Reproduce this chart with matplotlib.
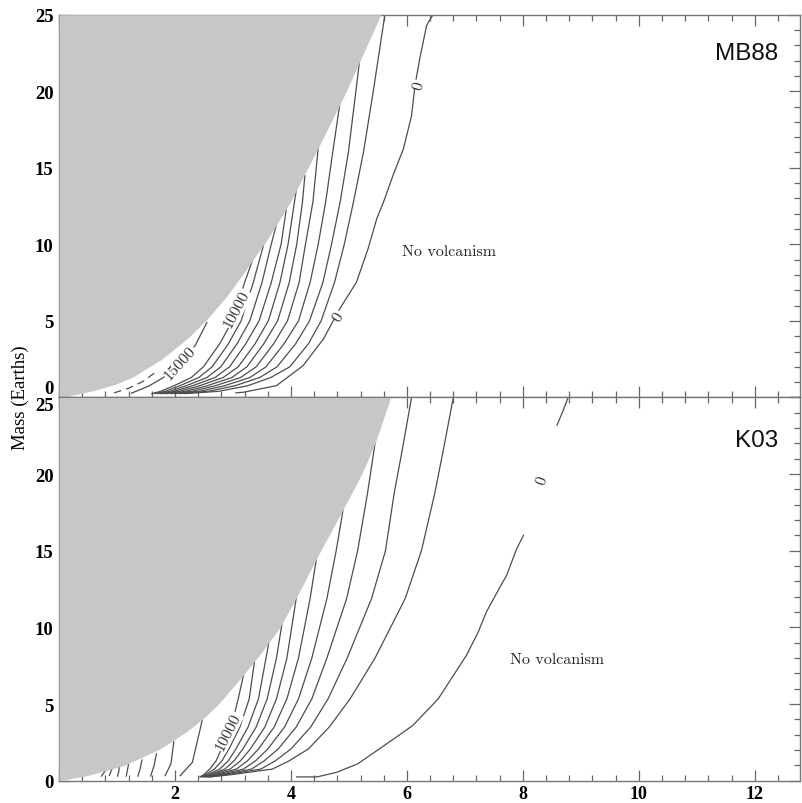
import matplotlib.pyplot as plt
from matplotlib.ticker import MultipleLocator

# Dados -- everything (x in axis units, mass in Earths)

# grey region edge, MB88 panel
mb88_edge_x = [0, 0.3, 0.65, 1.0, 1.28, 1.77, 2.23, 2.55, 2.89, 3.18, 3.64, 3.98, 4.47, 4.93, 5.30, 5.55]
mb88_edge_m = [0, 0.2, 0.5, 0.9, 1.35, 2.5, 3.9, 5.1, 6.6, 8.1, 10.6, 12.7, 16.3, 19.8, 22.9, 25]

# grey region edge, K03 panel
k03_edge_x = [0, 0.48, 1.11, 1.74, 2.2, 2.5, 2.75, 3.18, 3.5, 3.81, 4.1, 4.47, 4.90, 5.22, 5.45, 5.72]
k03_edge_m = [0, 0.33, 0.98, 2.07, 3.2, 4.1, 5.0, 6.9, 8.4, 10.0, 12.0, 14.7, 17.7, 20.0, 22.0, 25]

# MB88 fan of contours (10000 ... 1000), x where each crosses these masses
mb88_m = [0.25, 0.4, 0.76, 1.3, 2.0, 3.5, 5.0, 7.5, 10.0, 12.8, 16.0, 20.0, 25.0]
mb88_fan_x = [
    [1.60, 1.75, 1.98, 2.28, 2.49, 2.77, 2.99, 3.20],
    [1.65, 1.83, 2.08, 2.41, 2.64, 2.92, 3.14, 3.35],
    [1.70, 1.91, 2.19, 2.55, 2.79, 3.07, 3.29, 3.50, 3.66],
    [1.75, 1.99, 2.30, 2.69, 2.94, 3.22, 3.45, 3.66, 3.83],
    [1.80, 2.08, 2.42, 2.83, 3.09, 3.38, 3.61, 3.81, 3.95],
    [1.86, 2.18, 2.55, 2.98, 3.24, 3.53, 3.77, 3.97, 4.10, 4.20],
    [1.93, 2.29, 2.69, 3.13, 3.40, 3.70, 3.94, 4.14, 4.25, 4.38],
    [2.00, 2.42, 2.85, 3.29, 3.57, 3.88, 4.13, 4.33, 4.47, 4.60, 4.72],
    [2.08, 2.57, 3.03, 3.46, 3.76, 4.08, 4.32, 4.55, 4.70, 4.85, 4.99, 5.12],
    [2.17, 2.75, 3.25, 3.65, 3.98, 4.30, 4.52, 4.75, 4.92, 5.08, 5.25, 5.42, 5.62],
]
mb88_end_x = [3.33, 3.53, 3.75, 3.92, 4.09, 4.24, 4.47, 4.84, 5.18, None]
mb88_end_m = [8.9, 10.0, 11.3, 12.3, 13.5, 14.5, 16.3, 19.1, 21.9, None]

# MB88 zero contour
mb88_zero_x = [3.05, 3.18, 3.75, 4.21, 4.56, 4.84, 5.13, 5.33, 5.48, 5.60, 5.76, 5.94, 6.08, 6.14, 6.22, 6.34, 6.45]
mb88_zero_m = [0.3, 0.34, 0.77, 2.08, 3.82, 5.78, 7.53, 9.71, 11.67, 12.8, 14.5, 16.24, 18.4, 20.4, 22.1, 24.3, 25]

# MB88 15000 contour and the broken one next to the grey edge
mb88_15k_x = [1.25, 1.55, 1.80, 2.09, 2.35, 2.55]
mb88_15k_m = [0.28, 0.75, 1.3, 2.25, 3.4, 4.9]
mb88_edge_line_x = [0.95, 1.2, 1.45, 1.7]
mb88_edge_line_m = [0.3, 0.6, 1.05, 1.75]

# K03 fan of contours (10000 ... 1000)
k03_m = [0.25, 0.4, 0.76, 1.3, 2.07, 3.5, 5.34, 8.0, 11.88, 15.0, 18.74, 22.0, 25.0]
k03_fan_x = [
    [2.43, 2.50, 2.60, 2.71, 2.80, 2.97, 3.09],
    [2.45, 2.53, 2.68, 2.81, 2.93, 3.12, 3.28],
    [2.47, 2.57, 2.77, 2.92, 3.05, 3.26, 3.44, 3.57],
    [2.49, 2.61, 2.86, 3.02, 3.17, 3.40, 3.59, 3.75],
    [2.51, 2.65, 2.95, 3.13, 3.30, 3.55, 3.75, 3.93, 4.09],
    [2.53, 2.70, 3.06, 3.25, 3.44, 3.71, 3.93, 4.13, 4.33],
    [2.55, 2.76, 3.18, 3.39, 3.60, 3.89, 4.13, 4.36, 4.62, 4.78],
    [2.57, 2.83, 3.32, 3.54, 3.78, 4.09, 4.36, 4.62, 4.96, 5.15, 5.32],
    [2.59, 2.90, 3.48, 3.73, 4.00, 4.34, 4.64, 4.97, 5.39, 5.63, 5.78, 5.94, 6.08],
    [2.61, 2.98, 3.68, 3.97, 4.30, 4.66, 5.02, 5.45, 5.97, 6.25, 6.48, 6.65, 6.80],
]
k03_end_x = [3.18, 3.37, 3.62, 3.85, 4.11, 4.44, 4.90, 5.45, None, None]
k03_end_m = [6.86, 7.74, 9.04, 10.35, 12.3, 14.5, 17.7, 22.0, None, None]

# K03 short contours left of the 10000 one (bottom, middle, top)
k03_short_x = [
    [0.73, 0.76, 0.79],
    [0.87, 0.89, 0.91],
    [1.01, 1.03, 1.04],
    [1.16, 1.18, 1.20],
    [1.36, 1.40, 1.43],
    [1.58, 1.64, 1.68],
    [1.83, 1.93, 1.98],
    [2.09, 2.30, 2.47],
]
k03_short_m = [
    [0.3, 0.45, 0.6],
    [0.35, 0.55, 0.75],
    [0.3, 0.6, 0.9],
    [0.3, 0.7, 1.1],
    [0.3, 0.8, 1.35],
    [0.3, 1.0, 1.75],
    [0.33, 1.1, 2.55],
    [0.33, 1.2, 3.95],
]

# K03 zero contour (two pieces either side of its label)
k03_zero_x = [4.10, 4.45, 4.79, 5.15, 5.48, 5.80, 6.10, 6.54, 7.03, 7.23, 7.37, 7.60, 7.72, 7.89, 8.01]
k03_zero_m = [0.25, 0.25, 0.55, 1.1, 1.96, 2.8, 3.6, 5.34, 8.2, 9.7, 11.0, 12.6, 13.4, 15.1, 16.0]
k03_zero_top_x = [8.59, 8.70, 8.78]
k03_zero_top_m = [23.2, 24.2, 25.0]

# contour labels: text, x, mass, angle
mb88_labels = [("15000", 2.09, 2.25, 48), ("10000", 3.07, 5.78, 62),
               ("0", 4.82, 5.31, 58), ("0", 6.20, 20.4, 75)]
k03_labels = [("10000", 2.92, 3.2, 63), ("0", 8.34, 19.6, 70)]

x_ticks = [0, 2, 4, 6, 8, 10, 12]
x_ticklabels = ["", "2", "4", "6", "8", "10", "12"]
y_ticks = [0, 5, 10, 15, 20, 25]

# Style
line_color = "#4d4d4d"
grey = "#c6c7c9"
tick_font = {"family": "Liberation Serif", "weight": "bold", "size": 13.5}

fig = plt.figure(figsize=(8.03, 8.04), dpi=100)
ax_top = fig.add_axes([0.0735, 0.5044, 0.9228, 0.4761])
ax_bot = fig.add_axes([0.0735, 0.0277, 0.9228, 0.4767])


def draw_line(ax, xs, ms, **kw):
    ax.plot(xs, ms, color=line_color, lw=0.9, zorder=2, **kw)


def draw_fan(ax, m_levels, rows, end_x, end_m):
    for row, ex, em in zip(rows, end_x, end_m):
        xs = list(row)
        ms = list(m_levels[:len(row)])
        if ex is not None:
            xs.append(ex)
            ms.append(em)
        draw_line(ax, xs, ms)


def put_labels(ax, labels):
    for txt, x, m, ang in labels:
        ax.text(x, m, txt, rotation=ang, ha="center", va="center",
                family="cmr10", size=11.5, color="#333333", zorder=5,
                rotation_mode="anchor",
                bbox=dict(facecolor="white", edgecolor="none", pad=0.5))


# MB88 panel
draw_fan(ax_top, mb88_m, mb88_fan_x, mb88_end_x, mb88_end_m)
draw_line(ax_top, mb88_zero_x, mb88_zero_m)
draw_line(ax_top, mb88_15k_x, mb88_15k_m)
draw_line(ax_top, mb88_edge_line_x, mb88_edge_line_m, ls=(0, (6, 4)))
ax_top.fill_betweenx(mb88_edge_m, 0, mb88_edge_x, color=grey, lw=0, zorder=3)
put_labels(ax_top, mb88_labels)
ax_top.text(5.91, 9.58, "No volcanism", family="cmr10", size=11.5,
            va="center", ha="left", color="#222222")
ax_top.text(12.4, 22.5, "MB88", family="Liberation Sans", size=17.5,
            va="center", ha="right", color="#111111")

# K03 panel
draw_fan(ax_bot, k03_m, k03_fan_x, k03_end_x, k03_end_m)
for xs, ms in zip(k03_short_x, k03_short_m):
    draw_line(ax_bot, xs, ms)
draw_line(ax_bot, k03_zero_x, k03_zero_m)
draw_line(ax_bot, k03_zero_top_x, k03_zero_top_m)
ax_bot.fill_betweenx(k03_edge_m, 0, k03_edge_x, color=grey, lw=0, zorder=3)
put_labels(ax_bot, k03_labels)
ax_bot.text(7.78, 7.95, "No volcanism", family="cmr10", size=11.5,
            va="center", ha="left", color="#222222")
ax_bot.text(12.4, 22.2, "K03", family="Liberation Sans", size=17.5,
            va="center", ha="right", color="#111111")

# Formating
for ax in (ax_top, ax_bot):
    ax.set_xlim(0, 12.78)
    ax.set_ylim(0, 25)
    ax.set_xticks(x_ticks)
    ax.xaxis.set_minor_locator(MultipleLocator(0.4))
    ax.yaxis.set_minor_locator(MultipleLocator(1))
    ax.tick_params(which="both", direction="in", top=True, right=True,
                   color="#666666", width=0.9)
    ax.tick_params(which="major", length=8)
    ax.tick_params(which="minor", length=4.5)
    for sp in ax.spines.values():
        sp.set_color("#777777")
        sp.set_linewidth(1.0)

ax_top.set_xticklabels([])
ax_bot.set_xticklabels(x_ticklabels, fontdict={**tick_font, "size": 13})
ax_bot.tick_params(axis="x", pad=3)

ax_top.set_yticks(y_ticks)
top_labels = ax_top.set_yticklabels([str(v) for v in y_ticks], fontdict=tick_font)
top_labels[0].set_verticalalignment("bottom")
ax_bot.set_yticks(y_ticks)
bot_labels = ax_bot.set_yticklabels([str(v) for v in y_ticks], fontdict=tick_font)
bot_labels[-1].set_verticalalignment("top")
ax_top.tick_params(axis="y", pad=4)
ax_bot.tick_params(axis="y", pad=4)

fig.text(20 / 803, 1 - 398 / 804, "Mass (Earths)", rotation=90, ha="center",
         va="center", family="Liberation Serif", size=13.5)

fig.savefig("out.png", dpi=100)
